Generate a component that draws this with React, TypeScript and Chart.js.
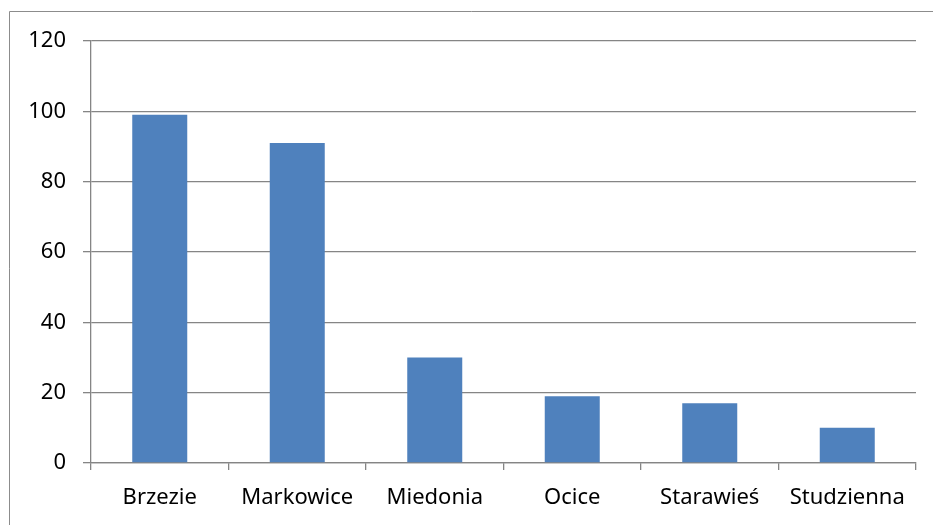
import React, { useEffect, useRef } from "react";
import { Chart, registerables } from "chart.js";

Chart.register(...registerables);

const categories = ["Brzezie", "Markowice", "Miedonia", "Ocice", "Starawieś", "Studzienna"];
const values = [99, 91, 30, 19, 17, 10];
const yMax = 120;
const yStep = 20;

const FONT = '"Noto Sans", "Open Sans", sans-serif';
const GRID = "#858585";

// Thin grey frame around the whole chart (open on the right and bottom edges)
const framePlugin = {
  id: "frame",
  beforeDraw(chart: Chart) {
    const { ctx, width, height } = chart;
    ctx.save();
    ctx.strokeStyle = "#8c8c8c";
    ctx.lineWidth = 1;
    ctx.beginPath();
    ctx.moveTo(9.5, height + 5);
    ctx.lineTo(9.5, 11.5);
    ctx.lineTo(width + 5, 11.5);
    ctx.stroke();
    ctx.restore();
  },
};

export default function App() {
  const ref = useRef<HTMLCanvasElement | null>(null);

  useEffect(() => {
    if (!ref.current) return;
    const chart = new Chart(ref.current, {
      type: "bar",
      data: {
        labels: categories,
        datasets: [
          {
            data: values,
            backgroundColor: "#4F81BD",
            borderWidth: 0,
            barPercentage: 1,
            categoryPercentage: 0.4,
          },
        ],
      },
      options: {
        animation: false,
        responsive: true,
        maintainAspectRatio: false,
        layout: { padding: { left: 0, top: 41, right: 17, bottom: 0 } },
        plugins: {
          legend: { display: false },
          tooltip: { enabled: false },
        },
        scales: {
          x: {
            offset: true,
            grid: {
              display: true,
              offset: true,
              drawOnChartArea: false,
              drawTicks: true,
              tickLength: 7,
              color: GRID,
              lineWidth: 1.3,
            },
            border: { display: true, color: GRID, width: 1.3 },
            ticks: {
              color: "#000",
              font: { family: FONT, size: 22 },
              padding: 15,
              maxRotation: 0,
              autoSkip: false,
            },
            afterFit(scale: any) {
              scale.height = 62;
            },
          },
          y: {
            min: 0,
            max: yMax,
            grid: {
              color: GRID,
              lineWidth: 1.3,
              drawTicks: true,
              tickLength: 8,
            },
            border: { display: true, color: GRID, width: 1.3 },
            ticks: {
              stepSize: yStep,
              color: "#000",
              font: { family: FONT, size: 22 },
              padding: 17,
            },
            afterFit(scale: any) {
              scale.width = 91;
            },
          },
        },
      },
      plugins: [framePlugin],
    });
    return () => chart.destroy();
  }, []);

  return (
    <div style={{ position: "absolute", left: 0, top: 0, width: 933, height: 525, background: "#fff" }}>
      <canvas ref={ref} />
    </div>
  );
}
